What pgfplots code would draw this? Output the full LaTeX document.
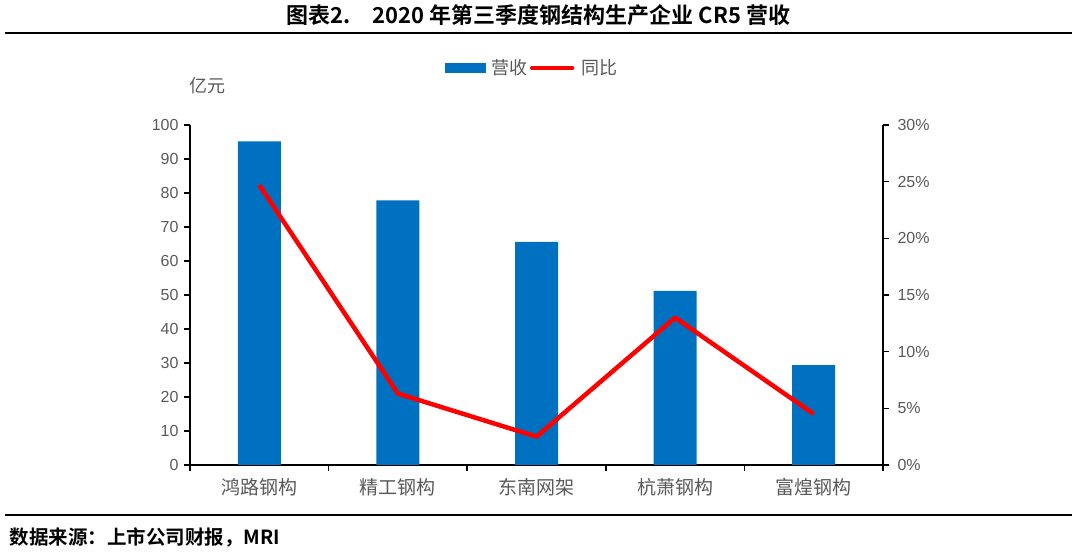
\documentclass[border=0pt]{standalone}
\usepackage{pgfplots}
\pgfplotsset{compat=1.18}
\usepackage{fontspec}
\setmainfont{Liberation Sans}
\newfontfamily\cjk[BoldFont={Noto Sans CJK SC Bold}]{Noto Sans CJK SC}
\definecolor{barblue}{HTML}{0070C0}
\definecolor{txtgrey}{HTML}{595959}
\definecolor{linered}{HTML}{FF0000}
\begin{document}
\begin{tikzpicture}[x=1pt,y=1pt]
\path[use as bounding box] (0,0) rectangle (1077,556);
\node[font=\cjk\bfseries\fontsize{22}{24}\selectfont] at (538.5,541) {图表2.\quad 2020 年第三季度钢结构生产企业 CR5 营收};
\draw[line width=1.6pt] (5,523) -- (1072,523);
\draw[line width=1.2pt] (5,41) -- (1072,41);
\node[anchor=west, font=\cjk\bfseries\fontsize{19.5}{21}\selectfont] at (6,19) {数据来源：上市公司财报，MRI};
\node[font=\cjk\fontsize{18}{20}\selectfont, text=txtgrey] at (207,470) {亿元};
\begin{axis}[
  at={(190pt,91pt)}, anchor=south west,
  scale only axis, width=693pt, height=340pt,
  xmin=-0.5, xmax=4.5, ymin=0, ymax=100,
  axis x line*=bottom, axis y line*=left,
  axis line style={line width=1.5pt, -},
  tick style={line width=1.5pt, black},
  tick align=outside, major tick length=6pt,
  xtick={-0.5,0.5,1.5,2.5,3.5,4.5},
  x tick label as interval=true,
  xticklabels={鸿路钢构,精工钢构,东南网架,杭萧钢构,富煌钢构},
  ytick={0,10,...,100},
  x tick label style={font=\cjk\fontsize{19}{21}\selectfont, text=txtgrey, yshift=-4pt},
  y tick label style={font=\fontsize{16}{18}\selectfont, text=txtgrey, xshift=-2pt},
  /pgf/number format/assume math mode=true,
  ybar, bar width=43pt,
]
\addplot[fill=barblue, draw=none, bar shift=0pt] coordinates {(0,95.2) (1,77.8) (2,65.6) (3,51.2) (4,29.4)};
\end{axis}
\begin{axis}[
  at={(190pt,91pt)}, anchor=south west,
  scale only axis, width=693pt, height=340pt,
  xmin=-0.5, xmax=4.5, ymin=0, ymax=30,
  axis x line=none, axis y line*=right,
  axis line style={line width=1.5pt, -},
  tick style={line width=1.5pt, black},
  tick align=outside, major tick length=6pt,
  ytick={0,5,...,30},
  yticklabel={\pgfmathprintnumber{\tick}\%},
  y tick label style={font=\fontsize{16}{18}\selectfont, text=txtgrey, xshift=5pt},
  /pgf/number format/assume math mode=true,
  legend style={at={(0.4935,1.1676)}, anchor=center, draw=none, fill=none,
    legend columns=2, font=\cjk\fontsize{18}{20}\selectfont, text=txtgrey,
    /tikz/every odd column/.append style={column sep=5pt},
    /tikz/every even column/.append style={column sep=0pt}},
]
\addlegendimage{legend image code/.code={\fill[barblue] (0pt,-4.5pt) rectangle (40pt,4.5pt);}}
\addlegendentry{营收}
\addplot[linered, line width=4.5pt, mark=none, line join=round,
  legend image code/.code={\draw[linered, line width=4.5pt, line cap=round] (0pt,0pt) -- (40pt,0pt);}]
  coordinates {(0,24.7) (1,6.3) (2,2.5) (3,13.0) (4,4.5)};
\addlegendentry{同比}
\end{axis}
\end{tikzpicture}
\end{document}
